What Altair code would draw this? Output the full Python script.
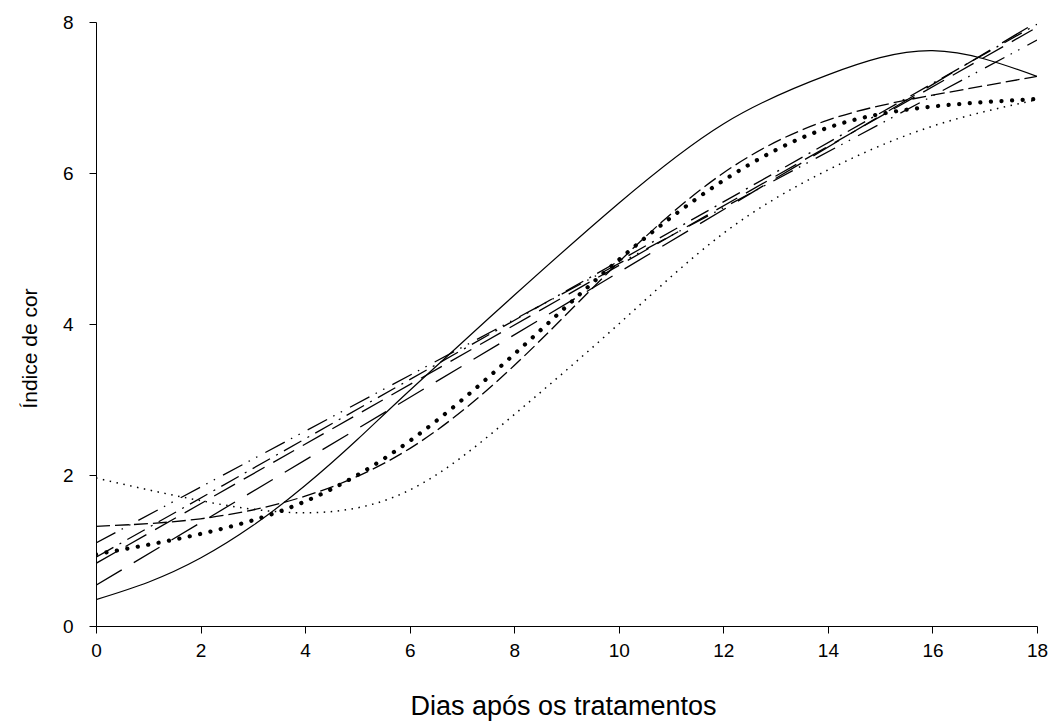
import altair as alt
import pandas as pd

# --- data ---
days = [0, 2, 4, 6, 8, 10, 12, 14, 16, 18]
solid_days = [0, 1, 2, 3, 4, 5, 6, 8, 10, 12, 14, 16, 18]
solid_vals = [0.35, 0.58, 0.90, 1.33, 1.86, 2.47, 3.12, 4.38, 5.60, 6.65, 7.30, 7.62, 7.28]
thin_dot_vals = [1.96, 1.66, 1.50, 1.80, 2.80, 4.00, 5.20, 6.04, 6.62, 6.97]
big_dot_vals = [0.95, 1.22, 1.65, 2.45, 3.60, 4.85, 5.90, 6.60, 6.88, 6.98]
med_dash_vals = [1.32, 1.42, 1.72, 2.35, 3.45, 4.82, 6.00, 6.70, 7.03, 7.28]

lin_days = [0, 18]
long_dash_vals = [0.54, 8.00]
dash_dot_vals = [0.91, 7.97]
dash2_vals = [0.83, 7.93]
dash_dot_dot_vals = [1.10, 7.76]

x_ticks = [0, 2, 4, 6, 8, 10, 12, 14, 16, 18]
y_ticks = [0, 2, 4, 6, 8]

FONT = "Liberation Sans"

def frame(xs, ys):
    return pd.DataFrame({"d": xs, "v": ys})

xenc = alt.X("d:Q", scale=alt.Scale(domain=[0, 18], nice=False),
             axis=alt.Axis(values=x_ticks, title="Dias após os tratamentos",
                           grid=False, tickSize=7, labelPadding=8,
                           labelFontSize=19, titleFontSize=27,
                           titleFontWeight="normal", labelFont=FONT, titleFont=FONT,
                           domainColor="black", tickColor="black",
                           labelColor="black", titleColor="black",
                           titleX=467, titleY=80, titleBaseline="middle",
                           titleAlign="center", labelFlush=False))
yenc = alt.Y("v:Q", scale=alt.Scale(domain=[0, 8], nice=False),
             axis=alt.Axis(values=y_ticks, title="Índice de cor",
                           grid=False, tickSize=7, labelPadding=16,
                           labelFontSize=19, titleFontSize=21,
                           titleFontWeight="normal", labelFont=FONT, titleFont=FONT,
                           domainColor="black", tickColor="black",
                           labelColor="black", titleColor="black",
                           titleX=-66, titleY=326, titleBaseline="middle",
                           titleAlign="center", titleAngle=270))

def line(xs, ys, dash=None, width=1.0, cap="butt", interp="natural"):
    kw = dict(color="black", strokeWidth=width, strokeCap=cap, interpolate=interp, clip=True)
    if dash is not None:
        kw["strokeDash"] = dash
    return alt.Chart(frame(xs, ys)).mark_line(**kw).encode(x=xenc, y=yenc)

layers = [
    line(solid_days, solid_vals, width=1.2),
    line(days, thin_dot_vals, dash=[1.5, 5.5], width=1.5),
    line(days, med_dash_vals, dash=[14, 5], width=1.3),
    line(lin_days, long_dash_vals, dash=[30, 14], width=1.3, interp="linear"),
    line(lin_days, dash_dot_vals, dash=[20, 7, 2, 7], width=1.3, interp="linear"),
    line(lin_days, dash2_vals, dash=[24, 10], width=1.3, interp="linear"),
    line(lin_days, dash_dot_dot_vals, dash=[22, 7, 1.5, 7, 1.5, 9], width=1.3, interp="linear"),
    line(days, big_dot_vals, dash=[0.1, 10.5], width=4.2, cap="round"),
]

chart = alt.layer(*layers).properties(
    width=941, height=604,
    autosize=alt.AutoSizeParams(type="none"),
    padding={"left": 96, "top": 22, "right": 16, "bottom": 98},
    background="white",
).configure_view(stroke=None)

chart.save("out.html", embed_options={"renderer": "svg", "actions": False})
